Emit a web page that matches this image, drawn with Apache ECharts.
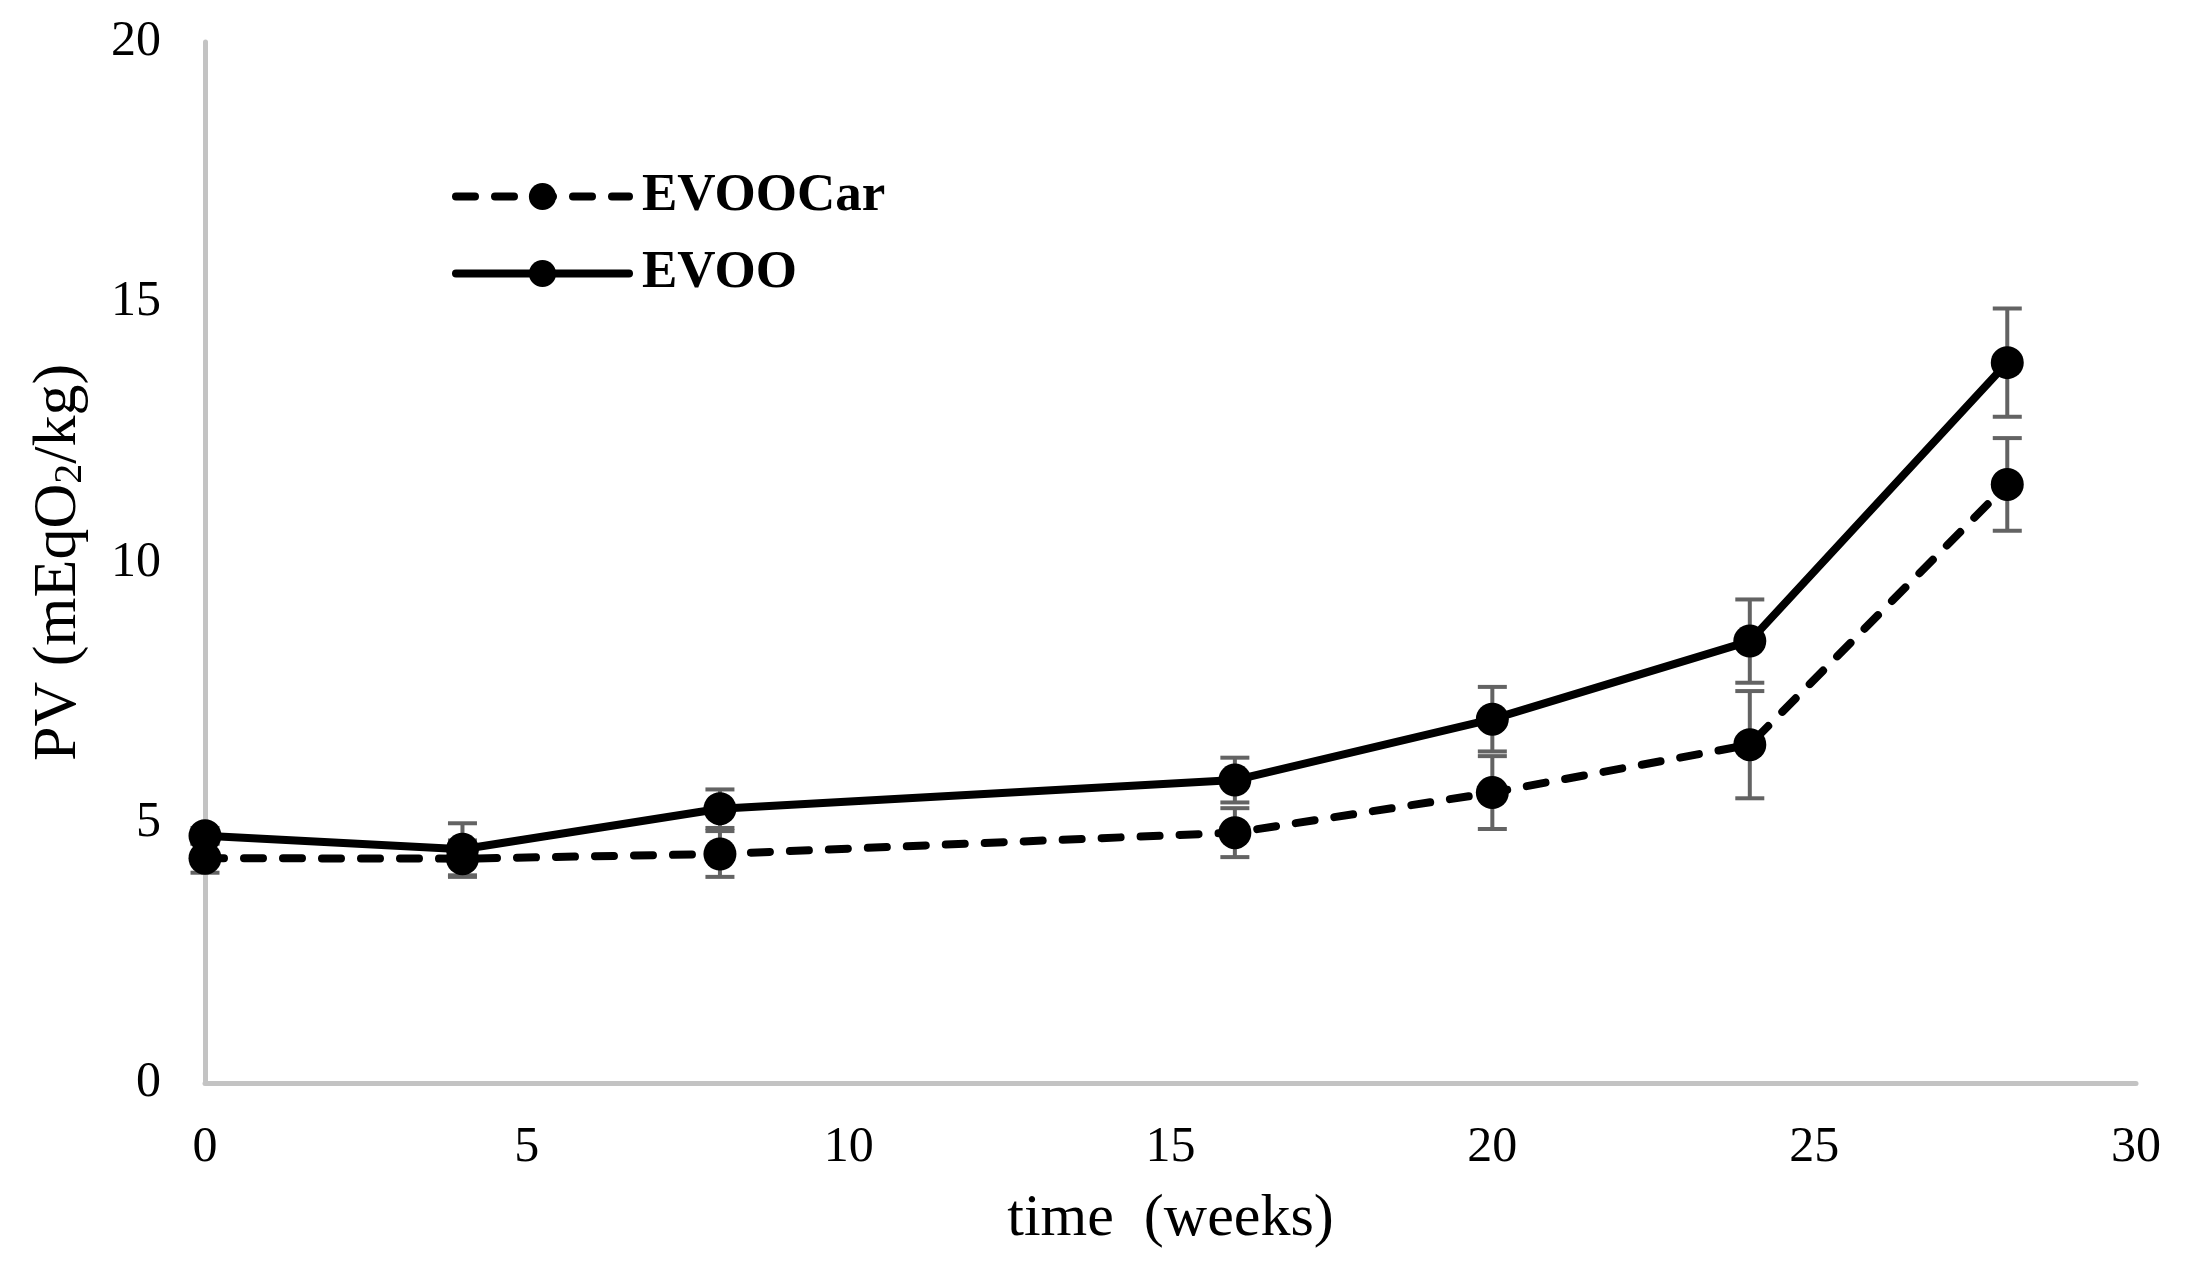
<!DOCTYPE html>
<html>
<head>
<meta charset="utf-8">
<script src="https://cdn.jsdelivr.net/npm/echarts@6/dist/echarts.min.js"></script>
<style>
html,body{margin:0;padding:0;background:#fff;}
#chart{width:2188px;height:1268px;}
</style>
</head>
<body>
<div id="chart"></div>
<script>
const weeks = [0, 4, 8, 16, 20, 24, 28];
const evooCar = [4.32, 4.31, 4.40, 4.81, 5.58, 6.50, 11.50];
const evooCarErr = [0.28, 0.35, 0.44, 0.47, 0.70, 1.03, 0.89];
const evoo = [4.75, 4.49, 5.27, 5.82, 6.99, 8.49, 13.84];
const evooErr = [0.15, 0.50, 0.37, 0.43, 0.62, 0.80, 1.04];
const xTicks = [0, 5, 10, 15, 20, 25, 30];
const yTicks = [0, 5, 10, 15, 20];

const FONT = 'Liberation Serif';

function errSeries(name, vals, errs) {
  return {
    type: 'custom',
    name: name + ' err',
    z: 1,
    data: weeks.map((w, i) => [w, vals[i], errs[i]]),
    encode: {x: 0, y: 1},
    renderItem: function (params, api) {
      const x = api.value(0), y = api.value(1), e = api.value(2);
      const top = api.coord([x, y + e]);
      const bot = api.coord([x, y - e]);
      const hw = 14.5;
      const st = {stroke: '#636363', lineWidth: 4};
      return {
        type: 'group',
        children: [
          {type: 'line', shape: {x1: top[0], y1: top[1], x2: bot[0], y2: bot[1]}, style: st},
          {type: 'line', shape: {x1: top[0] - hw, y1: top[1], x2: top[0] + hw, y2: top[1]}, style: st},
          {type: 'line', shape: {x1: bot[0] - hw, y1: bot[1], x2: bot[0] + hw, y2: bot[1]}, style: st}
        ]
      };
    }
  };
}

const chart = echarts.init(document.getElementById('chart'));
chart.setOption({
  animation: false,
  backgroundColor: '#ffffff',
  grid: {left: 205, right: 52, top: 42, bottom: 185, containLabel: false},
  legend: {
    data: ['EVOOCar', 'EVOO'],
    orient: 'vertical',
    left: 447,
    top: 165,
    itemWidth: 173,
    itemHeight: 34,
    itemGap: 24,
    lineStyle: {width: 8, cap: 'round'},
    textStyle: {fontFamily: FONT, fontWeight: 'bold', fontSize: 53, color: '#000', padding: [0, 0, 0, 8]}
  },
  xAxis: {
    type: 'value',
    min: 0, max: 30, interval: 5,
    name: 'time  (weeks)',
    nameLocation: 'middle',
    nameGap: 106,
    nameTextStyle: {fontFamily: FONT, fontSize: 60, color: '#000'},
    axisLine: {show: true, onZero: false, lineStyle: {color: '#c3c3c3', width: 5}},
    axisTick: {show: false},
    splitLine: {show: false},
    axisLabel: {fontFamily: FONT, fontSize: 50, color: '#000', margin: 40,
      formatter: v => xTicks.includes(v) ? String(v) : ''}
  },
  yAxis: {
    type: 'value',
    min: 0, max: 20, interval: 5,
    name: 'PV (mEqO{sub|2}/kg)',
    nameLocation: 'middle',
    nameRotate: 90,
    nameGap: 115,
    nameTextStyle: {fontFamily: FONT, fontSize: 62, color: '#000',
      rich: {sub: {fontFamily: FONT, fontSize: 40, color: '#000', verticalAlign: 'bottom', padding: [14, 0, 0, 0]}}},
    axisLine: {show: true, lineStyle: {color: '#c3c3c3', width: 5}},
    axisTick: {show: false},
    splitLine: {show: false},
    axisLabel: {fontFamily: FONT, fontSize: 50, color: '#000', margin: 44,
      formatter: v => yTicks.includes(v) ? String(v) : ''}
  },
  series: [
    errSeries('EVOOCar', evooCar, evooCarErr),
    errSeries('EVOO', evoo, evooErr),
    {
      name: 'EVOOCar',
      type: 'line',
      z: 3,
      data: weeks.map((w, i) => [w, evooCar[i]]),
      symbol: 'circle',
      symbolSize: 33,
      itemStyle: {color: '#000'},
      lineStyle: {color: '#000', width: 8, type: [19, 20], cap: 'round'}
    },
    {
      name: 'EVOO',
      type: 'line',
      z: 3,
      data: weeks.map((w, i) => [w, evoo[i]]),
      symbol: 'circle',
      symbolSize: 33,
      itemStyle: {color: '#000'},
      lineStyle: {color: '#000', width: 8, type: 'solid', cap: 'round'}
    }
  ]
});
</script>
</body>
</html>
